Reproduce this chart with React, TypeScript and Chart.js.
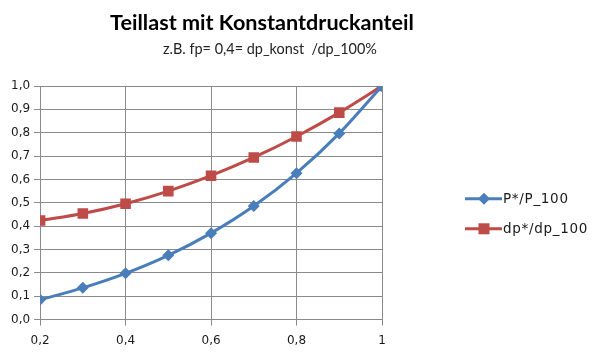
import React, { useEffect, useRef } from "react";
import { Chart, registerables } from "chart.js";
Chart.register(...registerables);

const TITLE = "Teillast mit Konstantdruckanteil";
const SUBTITLE = "z.B. fp= 0,4= dp_konst  /dp_100%";
const xValues = [0.2, 0.3, 0.4, 0.5, 0.6, 0.7, 0.8, 0.9, 1.0];
const pValues = [0.085, 0.136, 0.198, 0.275, 0.37, 0.486, 0.627, 0.797, 1.0];
const dpValues = [0.424, 0.454, 0.496, 0.55, 0.616, 0.694, 0.784, 0.886, 1.0];
const seriesNames = ["P*/P_100", "dp*/dp_100"];
const BLUE = "#4a7ebb";
const RED = "#be4b48";
const TEXT = "#1a1a1a";

const titlePlugin = {
  id: "customTitle",
  afterDraw(chart: any) {
    const ctx = chart.ctx;
    ctx.save();
    ctx.fillStyle = "#000";
    ctx.textAlign = "center";
    ctx.textBaseline = "middle";
    ctx.font = "bold 20px Lato";
    let w = ctx.measureText(TITLE).width;
    const size = (20 * 304) / w;
    ctx.font = `bold ${size}px Lato`;
    ctx.fillText(TITLE, 262, 23);
    ctx.font = "14px Lato";
    w = ctx.measureText(SUBTITLE).width;
    const s2 = (14 * 214) / w;
    ctx.font = `${s2}px Lato`;
    ctx.fillStyle = "#222";
    ctx.fillText(SUBTITLE, 270, 49);
    ctx.restore();
  },
};

const legendPlugin = {
  id: "customLegend",
  afterDraw(chart: any) {
    const ctx = chart.ctx;
    const area = chart.chartArea;
    const x0 = area.right + 83;
    const yc = (area.top + area.bottom) / 2;
    const rows = [yc - 4, yc + 26];
    chart.data.datasets.forEach((d: any, i: number) => {
      const y = rows[i];
      ctx.save();
      ctx.strokeStyle = d.borderColor;
      ctx.fillStyle = d.borderColor;
      ctx.lineWidth = 3;
      ctx.beginPath();
      ctx.moveTo(x0, y);
      ctx.lineTo(x0 + 37, y);
      ctx.stroke();
      const cx = x0 + 19;
      if (d.pointStyle === "rectRot") {
        ctx.beginPath();
        ctx.moveTo(cx, y - 6);
        ctx.lineTo(cx + 6, y);
        ctx.lineTo(cx, y + 6);
        ctx.lineTo(cx - 6, y);
        ctx.closePath();
        ctx.fill();
      } else {
        ctx.fillRect(cx - 5.5, y - 5.5, 11, 11);
      }
      ctx.fillStyle = TEXT;
      ctx.font = "13.5px 'DejaVu Sans'";
      (ctx as any).letterSpacing = "0.7px";
      ctx.textBaseline = "middle";
      ctx.textAlign = "left";
      ctx.fillText(d.label, x0 + 38, y + 1);
      ctx.restore();
    });
  },
};

export default function App() {
  const ref = useRef<HTMLCanvasElement>(null);
  useEffect(() => {
    const chart = new Chart(ref.current!, {
      type: "line",
      data: {
        datasets: [
          {
            label: seriesNames[0],
            data: xValues.map((x, i) => ({ x, y: pValues[i] })),
            borderColor: BLUE,
            backgroundColor: BLUE,
            borderWidth: 3,
            pointStyle: "rectRot",
            pointRadius: 6,
            pointBorderWidth: 0,
            cubicInterpolationMode: "monotone",
          },
          {
            label: seriesNames[1],
            data: xValues.map((x, i) => ({ x, y: dpValues[i] })),
            borderColor: RED,
            backgroundColor: RED,
            borderWidth: 3,
            pointStyle: "rect",
            pointRadius: 7.5,
            pointBorderWidth: 0,
            cubicInterpolationMode: "monotone",
          },
        ],
      },
      options: {
        animation: false,
        responsive: false,
        layout: { padding: { top: 86, left: 7, right: 219, bottom: -2 } },
        scales: {
          x: {
            type: "linear",
            min: 0.2,
            max: 1,
            ticks: {
              stepSize: 0.2,
              color: TEXT,
              font: { family: "DejaVu Sans", size: 12 },
              padding: 8,
              callback: (v: any) => (Math.abs(v - 1) < 1e-9 ? "1" : Number(v).toFixed(1).replace(".", ",")),
            },
            grid: { color: "#8a8a8a", lineWidth: 1, tickLength: 6 },
            border: { color: "#8a8a8a" },
          },
          y: {
            min: 0,
            max: 1,
            ticks: {
              stepSize: 0.1,
              color: TEXT,
              font: { family: "DejaVu Sans", size: 12 },
              padding: 4,
              callback: (v: any) => Number(v).toFixed(1).replace(".", ","),
            },
            grid: { color: "#8a8a8a", lineWidth: 1, tickLength: 6 },
            border: { color: "#8a8a8a" },
          },
        },
        plugins: {
          title: { display: false },
          tooltip: { enabled: false },
          legend: { display: false },
        },
      },
      plugins: [titlePlugin, legendPlugin],
    } as any);
    return () => chart.destroy();
  }, []);
  return (
    <div style={{ position: "fixed", left: 0, top: 0, width: 601, height: 354, background: "#fff" }}>
      <canvas ref={ref} width={601} height={354} />
    </div>
  );
}
